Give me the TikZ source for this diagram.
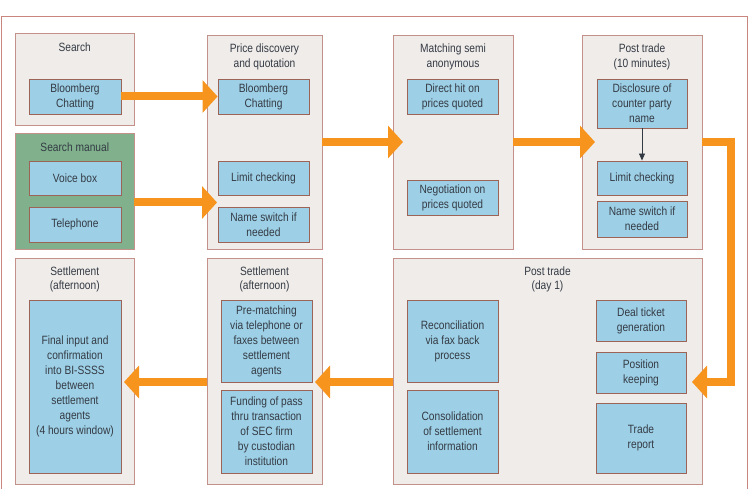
\documentclass[tikz,border=0pt]{standalone}
\usepackage{fontspec}
\setmainfont[FakeStretch=0.85]{Liberation Sans}
\usetikzlibrary{arrows.meta,calc}
\definecolor{framec}{HTML}{C8867E}
\definecolor{ofill}{HTML}{EFECE9}
\definecolor{obord}{HTML}{C4908A}
\definecolor{ifill}{HTML}{9DD0E6}
\definecolor{ibord}{HTML}{9C6456}
\definecolor{gfill}{HTML}{80B18C}
\definecolor{orng}{HTML}{F7941D}
\definecolor{txt}{HTML}{343A44}
\tikzset{
  outerbox/.style={draw=obord, fill=ofill, line width=0.9pt, inner sep=0pt},
  greenbox/.style={draw=obord, fill=gfill, line width=0.9pt, inner sep=0pt},
  innerbox/.style={draw=ibord, fill=ifill, line width=0.9pt, inner sep=1pt, align=center, text=txt, font=\fontsize{12}{15}\selectfont},
  title/.style={align=center, text=txt, inner sep=0pt, font=\fontsize{12}{14.6}\selectfont},
  fat/.style={draw=orng, line width=8pt, line join=miter, -{Triangle[length=15pt,width=32pt]}},
  thinarrow/.style={draw=txt, line width=0.8pt, -{Triangle[length=7pt,width=6pt]}}
}
\begin{document}
\begin{tikzpicture}[x=1pt,y=-1pt]
\useasboundingbox (0,0) rectangle (753,489);
% frame
\draw[framec, line width=0.9pt] (1.5,495) -- (1.5,16.5) -- (747.5,16.5) -- (747.5,495);
% outer boxes
\node[outerbox, minimum width=118.5pt, minimum height=92pt] (search) at (74.75,79) {};
\node[greenbox, minimum width=118.5pt, minimum height=116pt] (sman) at (74.75,191) {};
\node[outerbox, minimum width=115pt, minimum height=214pt] (price) at (264.5,142) {};
\node[outerbox, minimum width=120pt, minimum height=214pt] (match) at (453,142) {};
\node[outerbox, minimum width=120pt, minimum height=214pt] (post10) at (642,142) {};
\node[outerbox, minimum width=118.5pt, minimum height=226pt] (settl) at (74.75,371) {};
\node[outerbox, minimum width=115pt, minimum height=226pt] (settm) at (264.5,371) {};
\node[outerbox, minimum width=309pt, minimum height=226pt] (post1) at (547.5,371) {};
% titles
\node[title] (tsearch) at (74.75,47) {Search};
\node[title] (tsman) at (74.75,147) {Search manual};
\node[title] (tprice) at (264.5,57) {Price discovery\\and quotation};
\node[title] (tmatch) at (453,57) {Matching semi\\anonymous};
\node[title] (tpost10) at (642,57) {Post trade\\(10 minutes)};
\node[title] (tsettl) at (74.75,279.5) {Settlement\\(afternoon)};
\node[title] (tsettm) at (264.5,279.5) {Settlement\\(afternoon)};
\node[title] (tpost1) at (547.5,279.5) {Post trade\\(day 1)};
% inner boxes
\node[innerbox, minimum width=92pt, minimum height=35pt] (bc1) at (75,96.5) {Bloomberg\\Chatting};
\node[innerbox, minimum width=92pt, minimum height=34pt] (voice) at (75,178) {Voice box};
\node[innerbox, minimum width=92pt, minimum height=35pt] (tel) at (75,224.5) {Telephone};
\node[innerbox, minimum width=91pt, minimum height=35pt] (bc2) at (263.5,96.5) {Bloomberg\\Chatting};
\node[innerbox, minimum width=91pt, minimum height=34pt] (lim1) at (263.5,178) {Limit checking};
\node[innerbox, minimum width=91pt, minimum height=35pt] (name1) at (263.5,224.5) {Name switch if\\needed};
\node[innerbox, minimum width=91pt, minimum height=35pt] (direct) at (452.5,96.5) {Direct hit on\\prices quoted};
\node[innerbox, minimum width=91pt, minimum height=35pt] (nego) at (452.5,197.5) {Negotiation on\\prices quoted};
\node[innerbox, minimum width=90pt, minimum height=49pt] (disc) at (642,103.5) {Disclosure of\\counter party\\name};
\node[innerbox, minimum width=90pt, minimum height=34pt] (lim2) at (642,178) {Limit checking};
\node[innerbox, minimum width=90pt, minimum height=36pt] (name2) at (642,219) {Name switch if\\needed};
\node[innerbox, minimum width=92pt, minimum height=173pt] (final) at (75,386.5) {Final input and\\confirmation\\into BI-SSSS\\between\\settlement\\agents\\(4 hours window)};
\node[innerbox, minimum width=91pt, minimum height=82pt] (pre) at (266.5,341) {Pre-matching\\via telephone or\\faxes between\\settlement\\agents};
\node[innerbox, minimum width=91pt, minimum height=83pt] (fund) at (266.5,431.5) {Funding of pass\\thru transaction\\of SEC firm\\by custodian\\institution};
\node[innerbox, minimum width=91pt, minimum height=82pt] (recon) at (452.5,341) {Reconciliation\\via fax back\\process};
\node[innerbox, minimum width=91pt, minimum height=83pt] (consol) at (452.5,431.5) {Consolidation\\of settlement\\information};
\node[innerbox, minimum width=90pt, minimum height=41pt] (deal) at (641,320.5) {Deal ticket\\generation};
\node[innerbox, minimum width=90pt, minimum height=41pt] (pos) at (641,372.5) {Position\\keeping};
\node[innerbox, minimum width=90pt, minimum height=70pt] (trade) at (641,438) {Trade\\report};
% connector coordinates
\coordinate (a2s) at (134,202.5);
\coordinate (a2e) at (217,202.5);
\coordinate (a3e) at (403,142);
\coordinate (a4e) at (595,142);
\coordinate (c5) at (730.5,142);
\coordinate (a5e) at (692,382);
\coordinate (a6s) at (393,382);
\coordinate (a6e) at (315,382);
\coordinate (a7s) at (207,382);
\coordinate (a7e) at (124,382);
% arrows
\draw[fat] (bc1.east) -- (bc2.west);
\draw[fat] (a2s) -- (a2e);
\draw[fat] (price.east) -- (a3e);
\draw[fat] (match.east) -- (a4e);
\draw[fat] (post10.east) -- (c5) |- (a5e);
\draw[fat] (a6s) -- (a6e);
\draw[fat] (a7s) -- (a7e);
\draw[thinarrow] (disc.south) -- (lim2.north);
\end{tikzpicture}
\end{document}
